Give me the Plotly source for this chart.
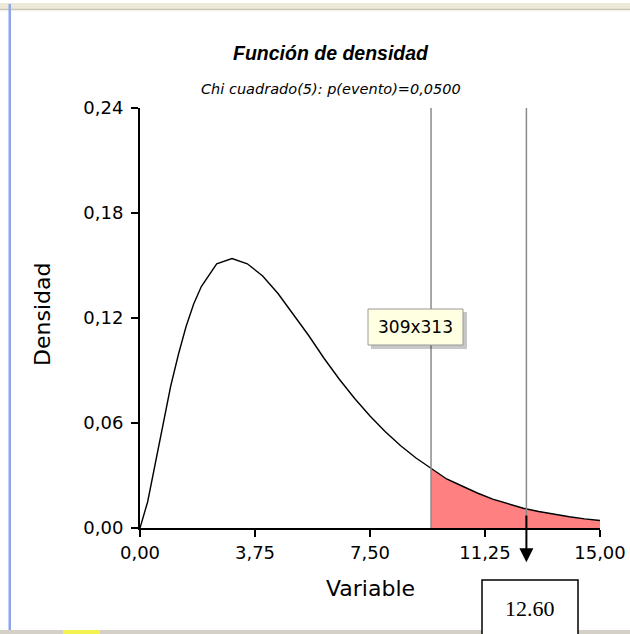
import plotly.graph_objects as go

# values
x_vals = [0.0, 0.25, 0.5, 0.75, 1.0, 1.25, 1.5, 1.75, 2.0, 2.5, 3.0, 3.5, 4.0, 4.5, 5.0,
          5.5, 6.0, 6.5, 7.0, 7.5, 8.0, 8.5, 9.0, 9.49, 10.0, 10.5, 11.0, 11.5, 12.0,
          12.5, 13.0, 13.5, 14.0, 14.5, 15.0]
y_vals = [0.000, 0.015, 0.037, 0.059, 0.081, 0.099, 0.115, 0.128, 0.138, 0.151, 0.154, 0.151,
          0.144, 0.134, 0.122, 0.110, 0.097, 0.085, 0.074, 0.064, 0.055, 0.047, 0.040,
          0.034, 0.028, 0.024, 0.020, 0.0165, 0.0137, 0.0113, 0.0094, 0.0077, 0.0064,
          0.0052, 0.0043]
critical = 9.49
marked = 12.60
x_ticks = [0.0, 3.75, 7.5, 11.25, 15.0]
x_tick_text = ["0,00", "3,75", "7,50", "11,25", "15,00"]
y_ticks = [0.0, 0.06, 0.12, 0.18, 0.24]
y_tick_text = ["0,00", "0,06", "0,12", "0,18", "0,24"]

W, H = 630, 634
L, R, T, B = 140, 30, 108, 106
PW, PH = W - L - R, H - T - B

def px(X):
    return (X - L) / PW

def py(Y):
    return (H - B - Y) / PH

fx = [x for x in x_vals if x >= critical]
fy = [y for x, y in zip(x_vals, y_vals) if x >= critical]

fig = go.Figure()
fig.add_trace(go.Scatter(x=fx, y=fy, fill="tozeroy", fillcolor="#FF8080",
                         line=dict(width=0), mode="lines", hoverinfo="skip"))
fig.add_trace(go.Scatter(x=x_vals, y=y_vals, mode="lines",
                         line=dict(color="black", width=1.4), hoverinfo="skip"))

font = "DejaVu Sans, Verdana, sans-serif"
arial = "Liberation Sans, Arial, sans-serif"

shapes = []
for v in (critical, marked):
    shapes.append(dict(type="line", xref="x", yref="y", x0=v, x1=v, y0=0, y1=0.24,
                       line=dict(color="#8A8A8A", width=1.5)))
# frame decorations
shapes += [
    dict(type="rect", xref="paper", yref="paper", x0=px(0), x1=px(W), y0=py(10), y1=py(3),
         fillcolor="#ECE9D8", line=dict(width=0)),
    dict(type="line", xref="paper", yref="paper", x0=px(0), x1=px(W), y0=py(9.5), y1=py(9.5),
         line=dict(color="#C9C6B4", width=1.5)),
    dict(type="rect", xref="paper", yref="paper", x0=px(8.5), x1=px(11), y0=py(630), y1=py(4),
         fillcolor="#8DA4EE", line=dict(width=0)),
    dict(type="rect", xref="paper", yref="paper", x0=px(0), x1=px(W), y0=py(H), y1=py(630),
         fillcolor="#D4D0C8", line=dict(width=0)),
    dict(type="rect", xref="paper", yref="paper", x0=px(63), x1=px(100), y0=py(H), y1=py(630),
         fillcolor="#F2F250", line=dict(width=0)),
    # tooltip
    dict(type="rect", xref="paper", yref="paper", x0=px(371), x1=px(467), y0=py(349), y1=py(312),
         fillcolor="rgba(0,0,0,0.22)", line=dict(width=0)),
    dict(type="rect", xref="paper", yref="paper", x0=px(368), x1=px(463), y0=py(345), y1=py(309),
         fillcolor="#FFFFE1", line=dict(color="#9A9A9A", width=1)),
    # value box
    dict(type="rect", xref="paper", yref="paper", x0=px(482), x1=px(578), y0=py(640), y1=py(580),
         fillcolor="white", line=dict(color="black", width=1.5)),
]

def txt(text, X, Y, size, family=font, angle=0):
    return dict(text=text, xref="paper", yref="paper", x=px(X), y=py(Y),
                xanchor="center", yanchor="middle", showarrow=False, textangle=angle,
                font=dict(family=family, size=size, color="black"))

annotations = [
    txt("<b><i>Función de densidad</i></b>", 331, 53, 19.5, family=arial),
    txt("<i>Chi cuadrado(5): p(evento)=0,0500</i>", 331, 89, 14.5),
    txt("309x313", 415.5, 327, 17),
    txt("12.60", 530, 608, 22, family="Liberation Serif, Times New Roman, serif"),
    txt("Variable", 370, 588, 22),
    txt("Densidad", 42, 315, 22, angle=-90),
    dict(text="", x=marked, y=-0.0195, xref="x", yref="y", ax=marked, ay=0.008,
         axref="x", ayref="y", showarrow=True, arrowhead=2, arrowsize=1.4, arrowwidth=2,
         arrowcolor="black", standoff=0, startstandoff=0),
]

fig.update_layout(
    width=W, height=H, margin=dict(l=L, r=R, t=T, b=B, autoexpand=False),
    paper_bgcolor="white", plot_bgcolor="white", showlegend=False,
    shapes=shapes, annotations=annotations,
    font=dict(family=font, size=18, color="black"),
    xaxis=dict(range=[0, 15], tickvals=x_ticks, ticktext=x_tick_text, showgrid=False,
               zeroline=False, showline=True, linecolor="black", linewidth=2,
               ticks="outside", ticklen=7, tickwidth=2, tickcolor="black", automargin=False),
    yaxis=dict(range=[0, 0.24], tickvals=y_ticks, ticktext=y_tick_text, showgrid=False,
               zeroline=False, showline=True, linecolor="black", linewidth=2,
               ticks="outside", ticklen=7, tickwidth=2, tickcolor="black", automargin=False,
               ticklabelstandoff=4),
)

fig.write_html("out.html", config={"displayModeBar": False},
               post_script="document.body.style.margin='0';")
